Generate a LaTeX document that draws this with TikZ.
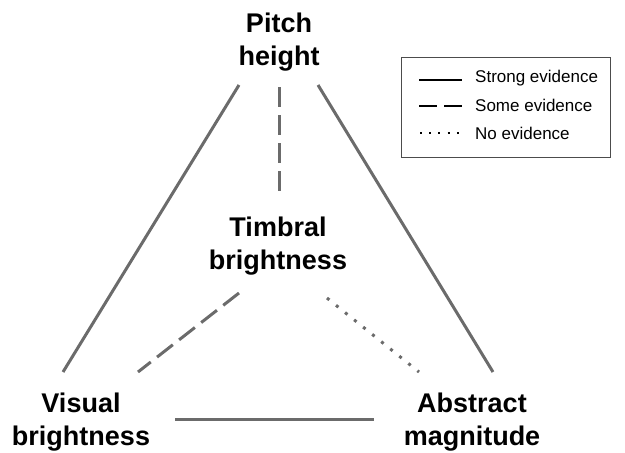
\documentclass[tikz,border=0pt]{standalone}
\usepackage{fontspec}
\setmainfont{Liberation Sans}
\begin{document}
\begin{tikzpicture}[x=1pt,y=-1pt,
  concept/.style={font=\fontsize{27}{33}\selectfont\bfseries, align=center, inner sep=0pt},
  link/.style={draw=black!58, line width=3pt},
  strong/.style={link},
  some/.style={link, dash pattern=on 20pt off 8pt},
  none/.style={link, dash pattern=on 3pt off 8.6pt},
  keytext/.style={font=\fontsize{17}{20}\selectfont, anchor=west, inner sep=0pt},
  keyline/.style={line width=1.6pt, black}
]
\useasboundingbox (0,0) rectangle (625,453);

% concepts
\node[concept] (pitch)   at (279,42)  {Pitch\\height};
\node[concept] (timbral) at (278,246) {Timbral\\brightness};
\node[concept] (visual)  at (81,422)  {Visual\\brightness};
\node[concept] (abstract) at (472,422) {Abstract\\magnitude};

% connector end points
\coordinate (pL) at (239,85);
\coordinate (pM) at (279,87);
\coordinate (pR) at (318,85);
\coordinate (tT) at (279,198);
\coordinate (tL) at (239,293);
\coordinate (tR) at (327,298);
\coordinate (vT) at (63,372);
\coordinate (vI) at (138,372);
\coordinate (vR) at (175,419);
\coordinate (aT) at (493,372);
\coordinate (aI) at (419,372);
\coordinate (aL) at (374,419);

% relations
\draw[strong] (pL) -- (vT);
\draw[strong] (pR) -- (aT);
\draw[strong] (vR) -- (aL);
\draw[some] (pM) -- (tT);
\draw[some] (tL) -- (vI);
\draw[none] (tR) -- (aI);

% key
\node[draw=black!70, line width=0.8pt, minimum width=209pt, minimum height=100pt, inner sep=0pt] (key) at (505.5,107.5) {};
\coordinate (k1a) at (419,80);  \coordinate (k1b) at (462,80);
\coordinate (k2a) at (419,106); \coordinate (k2b) at (462,106);
\coordinate (k3a) at (420,133); \coordinate (k3b) at (462,133);
\draw[keyline] (k1a) -- (k1b);
\draw[keyline, dash pattern=on 18pt off 7pt] (k2a) -- (k2b);
\draw[keyline, line width=2pt, dash pattern=on 2pt off 7.2pt] (k3a) -- (k3b);
\node[keytext] (k1) at (475,78)  {Strong evidence};
\node[keytext] (k2) at (475,105) {Some evidence};
\node[keytext] (k3) at (475,133) {No evidence};
\end{tikzpicture}
\end{document}
